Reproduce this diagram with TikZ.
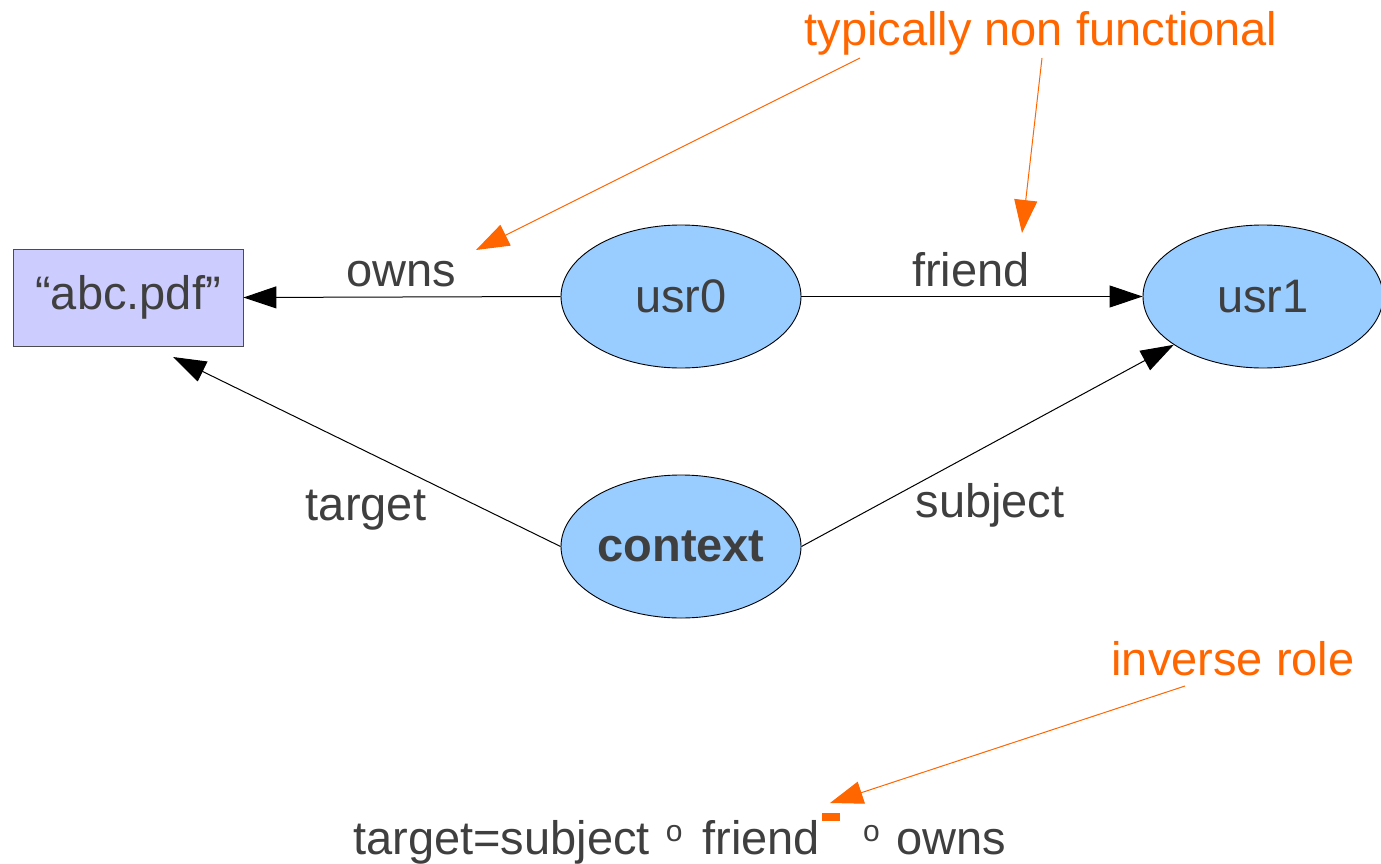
\documentclass[tikz,border=0pt]{standalone}
\usepackage{fontspec}
\setmainfont{Liberation Sans}
\usetikzlibrary{arrows.meta,shapes.geometric}
\definecolor{inktext}{HTML}{3F3F3F}
\definecolor{accent}{HTML}{FF6600}
\definecolor{nodeblue}{HTML}{99CCFF}
\definecolor{filebox}{HTML}{CCCCFF}
\newcommand{\compo}{\raisebox{13pt}{\fontsize{30}{34}\selectfont o}}
\begin{document}
\begin{tikzpicture}[x=1pt,y=-1pt,
  big/.style={font=\fontsize{47}{56}\selectfont, text=inktext},
  entity/.style={ellipse, draw=black, line width=0.9pt, fill=nodeblue,
    minimum width=240pt, minimum height=143pt, inner sep=0pt, big},
  doc/.style={rectangle, draw=black!70, line width=0.9pt, fill=filebox,
    minimum width=230pt, minimum height=97pt, inner sep=0pt, big},
  rel/.style={draw=black, line width=1pt, -{Triangle[length=33pt,width=22pt]}},
  note/.style={draw=accent, line width=1pt, -{Triangle[length=33pt,width=23pt]}},
  lbl/.style={big, anchor=base, inner sep=0pt},
  notetext/.style={lbl, text=accent}]
\clip (0,0) rectangle (1381,864);
\fill[white] (0,0) rectangle (1381,864);

% entities
\node[doc] (file) at (128,297.5) {“abc.pdf”};
\node[entity] (usr0) at (681,296.5) {usr0};
\node[entity] (usr1) at (1263,296.5) {usr1};
\node[entity] (ctx) at (681,546.5) {\bfseries context};

% relations
\coordinate (ttip) at (173,357);
\draw[rel] (usr0.west) -- (file.east);
\draw[rel] (usr0.east) -- (usr1.west);
\draw[rel] (ctx.east) -- (usr1);
\draw[rel] (ctx.west) -- (ttip);

% relation labels
\node[lbl] (lowns) at (401,286) {owns};
\node[lbl] (lfriend) at (971,286) {friend};
\node[lbl] (ltarget) at (366,520) {target};
\node[lbl] (lsubject) at (990,517) {subject};

% annotations
\node[notetext] (nf) at (1041,46) {typically non functional};
\node[notetext] (ir) at (1233,675) {inverse role};
\coordinate (nfa) at (860,58);
\coordinate (nfat) at (476,250);
\coordinate (nfb) at (1042,58);
\coordinate (nfbt) at (1022,233);
\coordinate (ira) at (1185,686);
\coordinate (irat) at (830,803);
\draw[note] (nfa) -- (nfat);
\draw[note] (nfb) -- (nfbt);
\draw[note] (ira) -- (irat);

% role chain
\node[lbl, anchor=base west] (chain) at (353,854)
  {target=subject\hspace{16pt}\compo\hspace{20pt}friend\hspace{2pt}\raisebox{33pt}{\textcolor{accent}{\rule{18pt}{8pt}}}\hspace{23pt}\compo\hspace{17pt}owns};
\end{tikzpicture}
\end{document}
